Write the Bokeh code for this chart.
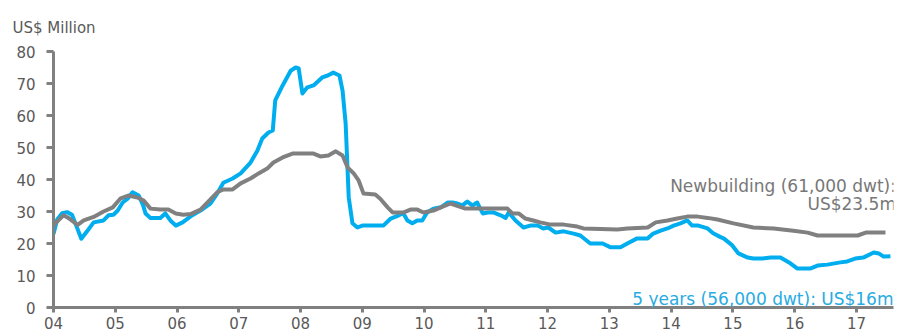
from bokeh.plotting import figure
from bokeh.models import Range1d, FixedTicker, Label
from bokeh.embed import file_html
from bokeh.resources import INLINE

# ---- data (decimal years, US$ million) ----
five_year_t = [2004.00, 2004.06, 2004.14, 2004.22, 2004.30, 2004.37, 2004.45, 2004.55, 2004.65, 2004.81,
               2004.89, 2004.97, 2005.04, 2005.12, 2005.20, 2005.28, 2005.38, 2005.45, 2005.49, 2005.57,
               2005.73, 2005.81, 2005.90, 2005.98, 2006.09, 2006.22, 2006.38, 2006.54, 2006.65, 2006.75,
               2006.90, 2007.03, 2007.19, 2007.30, 2007.38, 2007.48, 2007.55, 2007.59, 2007.71, 2007.84,
               2007.92, 2007.97, 2008.03, 2008.11, 2008.21, 2008.35, 2008.44, 2008.53, 2008.63, 2008.68,
               2008.73, 2008.78, 2008.84, 2008.92, 2009.00, 2009.34, 2009.46, 2009.59, 2009.66, 2009.73,
               2009.81, 2009.89, 2009.97, 2010.05, 2010.15, 2010.27, 2010.38, 2010.46, 2010.54, 2010.62,
               2010.70, 2010.78, 2010.86, 2010.95, 2011.03, 2011.12, 2011.24, 2011.32, 2011.37, 2011.48,
               2011.61, 2011.72, 2011.84, 2011.93, 2012.01, 2012.13, 2012.26, 2012.42, 2012.53, 2012.69,
               2012.89, 2013.02, 2013.18, 2013.29, 2013.45, 2013.62, 2013.71, 2013.83, 2013.94, 2014.04,
               2014.15, 2014.26, 2014.34, 2014.44, 2014.59, 2014.68, 2014.80, 2014.85, 2014.99, 2015.09,
               2015.24, 2015.33, 2015.48, 2015.61, 2015.77, 2015.93, 2016.04, 2016.26, 2016.37, 2016.53,
               2016.74, 2016.85, 2016.98, 2017.11, 2017.28, 2017.36, 2017.44, 2017.55]
five_year_v = [23.0, 27.5, 29.5, 29.8, 29.0, 25.5, 21.5, 24.0, 26.6, 27.2,
               28.8, 29.0, 30.3, 32.8, 34.0, 36.0, 35.0, 32.0, 29.4, 28.0,
               28.0, 29.4, 27.0, 25.6, 26.6, 28.5, 30.3, 32.5, 35.6, 39.0,
               40.3, 41.9, 45.3, 49.0, 52.8, 54.7, 55.3, 64.7, 69.4, 74.0,
               75.0, 74.7, 66.9, 68.8, 69.4, 71.9, 72.5, 73.4, 72.5, 67.8,
               57.5, 34.4, 26.3, 25.0, 25.6, 25.6, 27.8, 28.8, 29.5, 27.2,
               26.3, 27.2, 27.2, 29.7, 30.9, 31.3, 32.8, 32.8, 32.5, 31.9,
               33.1, 31.9, 32.8, 29.4, 29.7, 29.7, 28.8, 28.0, 29.7, 27.2,
               25.0, 25.6, 25.6, 24.7, 25.0, 23.4, 23.8, 23.1, 22.5, 20.0,
               20.0, 18.8, 18.8, 20.0, 21.6, 21.6, 23.1, 24.0, 24.7, 25.6,
               26.3, 27.2, 25.6, 25.6, 24.7, 23.2, 22.0, 21.6, 19.4, 16.9,
               15.6, 15.3, 15.3, 15.6, 15.6, 13.8, 12.2, 12.2, 13.1, 13.4,
               14.1, 14.4, 15.3, 15.6, 17.2, 16.9, 15.9, 16.0]

newbuild_t = [2004.00, 2004.03, 2004.16, 2004.24, 2004.39, 2004.49, 2004.65, 2004.81, 2004.96, 2005.08,
              2005.21, 2005.36, 2005.46, 2005.57, 2005.73, 2005.86, 2005.98, 2006.10, 2006.22, 2006.38,
              2006.49, 2006.65, 2006.75, 2006.90, 2007.03, 2007.19, 2007.32, 2007.46, 2007.56, 2007.71,
              2007.87, 2008.21, 2008.32, 2008.45, 2008.57, 2008.68, 2008.76, 2008.86, 2008.94, 2009.02,
              2009.21, 2009.29, 2009.41, 2009.49, 2009.67, 2009.78, 2009.89, 2009.99, 2010.15, 2010.31,
              2010.43, 2010.56, 2010.67, 2011.35, 2011.43, 2011.53, 2011.64, 2011.77, 2011.88, 2012.05,
              2012.26, 2012.48, 2012.58, 2013.13, 2013.29, 2013.62, 2013.75, 2013.94, 2014.10, 2014.26,
              2014.43, 2014.59, 2014.75, 2015.01, 2015.33, 2015.66, 2015.98, 2016.21, 2016.37, 2016.69,
              2017.02, 2017.15, 2017.47]
newbuild_v = [25.5, 26.3, 28.8, 28.0, 25.8, 27.2, 28.3, 30.0, 31.3, 34.0,
              35.0, 34.4, 33.4, 30.9, 30.6, 30.6, 29.4, 29.0, 29.2, 30.6,
              32.8, 36.0, 36.9, 36.9, 38.8, 40.3, 41.9, 43.4, 45.3, 46.9,
              48.1, 48.1, 47.2, 47.5, 48.8, 47.5, 43.8, 41.9, 39.7, 35.6,
              35.3, 34.0, 31.3, 29.7, 29.7, 30.6, 30.6, 29.7, 30.3, 31.6,
              32.5, 31.6, 30.9, 30.9, 29.4, 29.4, 27.8, 27.2, 26.6, 25.9,
              25.9, 25.3, 24.7, 24.4, 24.7, 25.0, 26.6, 27.2, 27.8, 28.4,
              28.4, 28.0, 27.5, 26.3, 25.0, 24.7, 24.0, 23.4, 22.5, 22.5,
              22.5, 23.4, 23.4]

year_ticks = [2004, 2005, 2006, 2007, 2008, 2009, 2010, 2011, 2012, 2013, 2014, 2015, 2016, 2017]
year_labels = ["04", "05", "06", "07", "08", "09", "10", "11", "12", "13", "14", "15", "16", "17"]
value_ticks = [0, 10, 20, 30, 40, 50, 60, 70, 80]

unit_title = "US$ Million"
newbuild_label_1 = "Newbuilding (61,000 dwt):"
newbuild_label_2 = "US$23.5m"
five_year_label = "5 years (56,000 dwt): US$16m"

BLUE = "#00AEEF"
GREY = "#808080"
TEXT = "#595959"
FONT = "DejaVu Sans"

p = figure(width=898, height=334, output_backend="svg", toolbar_location=None,
           x_range=Range1d(2004, 2017.6), y_range=Range1d(0, 80),
           min_border_left=53, min_border_right=5, min_border_top=51, min_border_bottom=27)
p.outline_line_color = None
p.xgrid.visible = False
p.ygrid.visible = False
p.background_fill_color = "white"
p.border_fill_color = "white"

p.title.text = unit_title
p.title.align = "left"
p.title.offset = -41
p.title.standoff = 30
p.title.text_font = FONT
p.title.text_font_size = "15px"
p.title.text_font_style = "normal"
p.title.text_color = TEXT

p.line(five_year_t, five_year_v, line_color=BLUE, line_width=4, line_join="round")
p.line(newbuild_t, newbuild_v, line_color=GREY, line_width=4, line_join="round")

for ax in (p.xaxis[0], p.yaxis[0]):
    ax.axis_line_color = GREY
    ax.axis_line_width = 3
    ax.major_tick_line_color = GREY
    ax.major_tick_line_width = 3
    ax.minor_tick_line_color = None
    ax.major_tick_in = 0
    ax.major_label_text_font = FONT
    ax.major_label_text_font_size = "15px"
    ax.major_label_text_color = TEXT

p.xaxis.ticker = FixedTicker(ticks=year_ticks)
p.xaxis.major_label_overrides = {t: l for t, l in zip(year_ticks, year_labels)}
p.xaxis.major_tick_out = 5
p.xaxis.major_label_standoff = 4

p.yaxis.ticker = FixedTicker(ticks=value_ticks)
p.yaxis.major_tick_out = 7
p.yaxis.major_label_standoff = 11

p.add_layout(Label(x=2017.64, y=38.1, text=newbuild_label_1, text_font=FONT, text_font_size="17px",
                   text_color="#777777", text_baseline="middle", text_align="right"))
p.add_layout(Label(x=2017.64, y=32.5, text=newbuild_label_2, text_font=FONT, text_font_size="17px",
                   text_color="#777777", text_baseline="middle", text_align="right"))
p.add_layout(Label(x=2017.6, y=2.8, text=five_year_label, text_font=FONT, text_font_size="17px",
                   text_color="#29ABE2", text_baseline="middle", text_align="right"))

open("out.html", "w").write(file_html(p, INLINE))
